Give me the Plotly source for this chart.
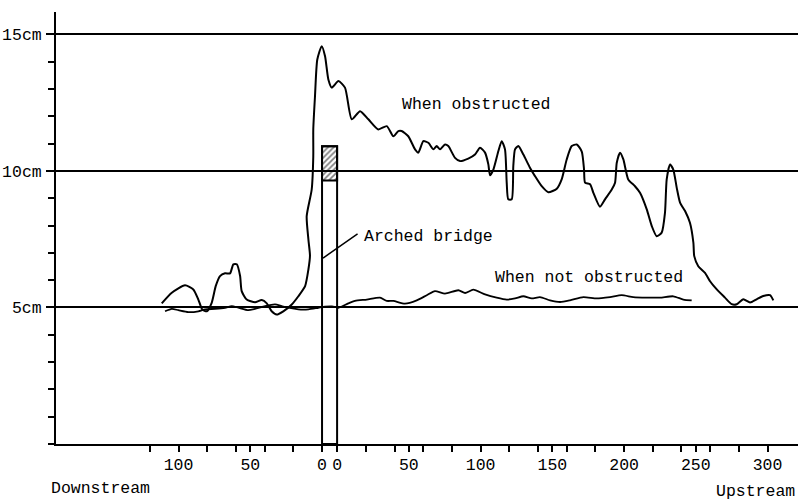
import plotly.graph_objects as go

# Station along the channel: negative = downstream distance, the arched bridge
# spans 0..BRIDGE_W, and upstream distance u sits at BRIDGE_W + u.
BRIDGE_W = 10.5

# Water depth (cm) when obstructed
obs_x = [-111.7, -104.7, -95.5, -89.7, -86.2, -83.4, -80.3, -76.9, -74.1, -71.1,
         -67.6, -64.1, -61.8, -59.4, -57.1, -56.0, -52.5, -46.7, -42.0, -38.5,
         -35.1, -31.6, -27.0, -21.1, -16.5, -11.8, -9.5, -8.4, -9.5, -10.7,
         -7.2, -6.1, -6.1, -4.9, -3.3, -0.2, 2.1, 4.4, 6.8, 11.4,
         16.0, 20.7, 26.5, 32.3, 39.2, 45.1, 49.7, 53.2, 55.5, 60.1,
         64.8, 67.1, 70.6, 74.1, 77.6, 79.9, 82.2, 85.7, 88.0, 92.7,
         96.2, 101.9, 106.6, 110.1, 113.6, 115.9, 117.1, 119.4, 122.9, 125.2,
         127.5, 128.7, 129.8, 132.2, 133.3, 134.5, 136.8, 140.3, 144.9, 148.4,
         153.1, 157.7, 163.6, 167.0, 170.5, 174.0, 177.5, 181.0, 182.6, 183.3,
         186.8, 189.1, 193.7, 197.2, 201.9, 204.2, 205.4, 207.7, 210.0, 213.4,
         218.1, 221.6, 226.3, 229.8, 233.2, 236.7, 239.0, 240.2, 242.5, 244.8,
         247.2, 249.5, 253.0, 256.4, 258.8, 259.4, 262.2, 266.9, 270.4, 275.1,
         280.8, 285.5, 289.0, 293.6, 298.3, 302.9, 307.5, 312.2, 314.5]
obs_y = [5.15, 5.54, 5.81, 5.66, 5.29, 4.92, 4.86, 5.17, 5.78, 6.15,
         6.25, 6.25, 6.58, 6.58, 6.15, 5.60, 5.29, 5.19, 5.27, 5.15,
         4.86, 4.74, 4.86, 5.11, 5.41, 5.78, 6.39, 6.90, 7.49, 8.34,
         9.32, 10.54, 11.52, 12.74, 14.08, 14.57, 14.20, 13.35, 13.05, 13.29,
         13.05, 11.89, 12.19, 11.89, 11.52, 11.64, 11.27, 11.46, 11.46, 11.27,
         10.79, 10.67, 11.09, 11.03, 10.79, 10.91, 10.79, 10.97, 10.91, 10.48,
         10.36, 10.45, 10.60, 10.85, 10.67, 10.24, 9.84, 10.05, 10.73, 11.09,
         10.79, 9.57, 8.96, 8.96, 10.18, 10.79, 10.91, 10.60, 10.12, 9.81,
         9.44, 9.22, 9.35, 9.69, 10.42, 10.91, 10.97, 10.71, 10.05, 9.57,
         9.51, 9.20, 8.69, 8.96, 9.32, 9.57, 10.30, 10.67, 10.42, 9.69,
         9.44, 9.20, 8.59, 7.98, 7.61, 7.74, 8.47, 9.69, 10.24, 10.05,
         9.38, 8.84, 8.53, 8.10, 7.37, 6.88, 6.51, 6.27, 5.96, 5.66,
         5.36, 5.12, 5.12, 5.30, 5.18, 5.30, 5.42, 5.45, 5.26]

# Water depth (cm) when not obstructed
free_x = [-109.4, -104.7, -100.1, -93.2, -86.2, -81.5, -74.6, -67.6, -62.9, -58.3,
          -51.4, -46.7, -39.7, -32.8, -28.1, -23.5, -16.5, -9.5, -2.6, 2.1,
          7.0, 11.4, 18.3, 23.0, 31.2, 40.4, 45.1, 49.7, 57.8, 66.0,
          73.0, 78.7, 85.7, 95.0, 99.7, 105.4, 113.6, 121.7, 128.7, 134.5,
          140.3, 146.1, 151.9, 158.9, 165.9, 172.8, 182.1, 191.4, 200.7, 208.8,
          216.9, 226.3, 235.5, 244.8, 251.8, 257.6]
free_y = [4.86, 4.95, 4.90, 4.83, 4.86, 4.93, 4.95, 4.99, 5.05, 4.99,
          4.90, 4.95, 5.05, 5.11, 5.05, 4.99, 4.93, 4.93, 4.99, 5.03,
          5.04, 4.99, 5.15, 5.24, 5.29, 5.36, 5.24, 5.24, 5.14, 5.26,
          5.45, 5.60, 5.51, 5.63, 5.53, 5.65, 5.48, 5.36, 5.29, 5.33,
          5.41, 5.33, 5.38, 5.26, 5.20, 5.26, 5.38, 5.33, 5.38, 5.45,
          5.38, 5.36, 5.36, 5.41, 5.29, 5.26]

BRIDGE_TOP = 10.9
HATCH_BOTTOM = 9.65

down_ticks = [0, 20, 40, 50, 60, 80, 100, 120]
up_ticks = [0, 20, 40, 50, 60, 80, 100, 120, 140, 150, 160, 180, 200, 220,
            240, 250, 260, 280, 300]
down_labels = [0, 50, 100]
up_labels = [0, 50, 100, 150, 200, 250, 300]
y_ticks = [5, 10, 15]
y_labels = ["5cm", "10cm", "15cm"]

FONT = "Liberation Mono, Courier New, monospace"
FS = 16.5

tickvals = [-d for d in down_ticks] + [BRIDGE_W + u for u in up_ticks]
ticktext = [str(d) if d in down_labels else "" for d in down_ticks] + \
           [str(u) if u in up_labels else "" for u in up_ticks]

fig = go.Figure()

fig.add_trace(go.Bar(x=[BRIDGE_W / 2], y=[BRIDGE_TOP], base=[0], width=[BRIDGE_W],
                     marker=dict(color="rgba(0,0,0,0)", line=dict(color="black", width=2)),
                     showlegend=False, hoverinfo="skip"))
fig.add_trace(go.Bar(x=[BRIDGE_W / 2], y=[BRIDGE_TOP - HATCH_BOTTOM], base=[HATCH_BOTTOM],
                     width=[BRIDGE_W],
                     marker=dict(color="rgba(0,0,0,0)", line=dict(color="black", width=2),
                                 pattern=dict(shape="/", fgcolor="black", size=4, solidity=0.45)),
                     showlegend=False, hoverinfo="skip"))

fig.add_trace(go.Scatter(x=obs_x, y=obs_y, mode="lines",
                         line=dict(color="black", width=2, shape="spline", smoothing=0.6),
                         showlegend=False))
fig.add_trace(go.Scatter(x=free_x, y=free_y, mode="lines",
                         line=dict(color="black", width=1.8, shape="spline", smoothing=0.6),
                         showlegend=False))

fig.update_layout(
    width=798, height=503,
    margin=dict(l=56, r=0, t=12, b=59),
    paper_bgcolor="white", plot_bgcolor="white",
    barmode="overlay",
    font=dict(family=FONT, size=FS, color="black"),
    xaxis=dict(range=[-185.4, 331.7], tickmode="array", tickvals=tickvals, ticktext=ticktext,
               ticks="outside", ticklen=6, tickwidth=2, tickcolor="black",
               showline=True, linewidth=2, linecolor="black", showgrid=False, zeroline=False,
               ticklabelstandoff=-2,
               tickfont=dict(family=FONT, size=FS, color="black")),
    yaxis=dict(range=[0, 15.82], tickmode="array", tickvals=y_ticks, ticktext=y_labels,
               ticks="outside", ticklen=8, tickwidth=1.5, tickcolor="black",
               showline=True, linewidth=2, linecolor="black",
               showgrid=True, gridcolor="black", gridwidth=1.5, zeroline=False,
               ticklabelstandoff=1,
               minor=dict(dtick=1, tick0=0, ticks="outside", ticklen=6, tickwidth=1.5,
                          tickcolor="black", showgrid=False),
               tickfont=dict(family=FONT, size=FS, color="black")),
)

fig.add_annotation(x=107.3, y=12.45, text="When obstructed", showarrow=False,
                   xanchor="center", yanchor="middle")
fig.add_annotation(x=27.9, y=7.6, text="Arched bridge", showarrow=False,
                   xanchor="left", yanchor="middle")
fig.add_annotation(x=0.7, y=6.81, ax=25.8, ay=7.73, axref="x", ayref="y", text="",
                   showarrow=True, arrowhead=0, arrowwidth=1.5, arrowcolor="black", standoff=0)
fig.add_annotation(x=119.2, y=6.1, text="When not obstructed", showarrow=False,
                   xanchor="left", yanchor="middle")
fig.add_annotation(xref="paper", yref="paper", x=-0.0094, y=-0.102, text="Downstream",
                   showarrow=False, xanchor="left", yanchor="middle")
fig.add_annotation(xref="paper", yref="paper", x=0.9985, y=-0.11, text="Upstream",
                   showarrow=False, xanchor="right", yanchor="middle")

fig.write_html("out.html")
